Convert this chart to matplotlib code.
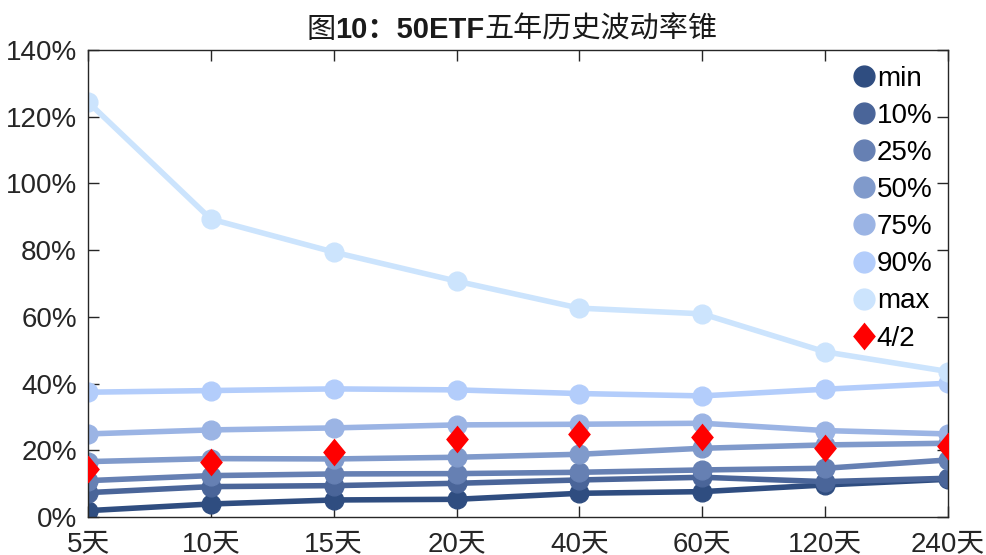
import numpy as np
import matplotlib
matplotlib.use("Agg")
import matplotlib.pyplot as plt

plt.rcParams['font.family'] = ['Liberation Sans', 'Noto Sans CJK SC', 'DejaVu Sans']

periods = ["5天", "10天", "15天", "20天", "40天", "60天", "120天", "240天"]
names = ["min", "10%", "25%", "50%", "75%", "90%", "max"]

v_min = [1.9, 3.9, 5.1, 5.3, 7.1, 7.6, 9.6, 11.3]
v_p10 = [7.3, 9.1, 9.4, 10.1, 11.1, 11.9, 10.6, 11.6]
v_p25 = [10.9, 12.4, 12.9, 13.0, 13.4, 14.1, 14.6, 17.1]
v_p50 = [16.6, 17.5, 17.4, 17.9, 18.8, 20.6, 21.6, 22.1]
v_p75 = [24.9, 26.1, 26.7, 27.6, 27.8, 28.1, 25.9, 24.9]
v_p90 = [37.4, 37.9, 38.4, 38.1, 37.0, 36.3, 38.3, 40.1]
v_max = [124.4, 89.3, 79.4, 70.7, 62.6, 60.9, 49.5, 43.6]
v_now = [14.5, 16.6, 19.5, 23.4, 24.8, 24.1, 20.6, 21.4]
now_label = "4/2"

series = [v_min, v_p10, v_p25, v_p50, v_p75, v_p90, v_max]
colors = ["#2f4d80", "#4a6599", "#6680b3", "#809acb", "#9bb4e4", "#b3cdfb", "#cce4fd"]

# slightly tall diamond
diamond = [(0, 1), (0.82, 0), (0, -1), (-0.82, 0), (0, 1)]

fig = plt.figure(figsize=(9.87, 5.55), dpi=100)
ax = fig.add_axes([0.0892, 0.0685, 0.8713, 0.8415])

x = np.arange(len(periods))
for vals, c, n in zip(series, colors, names):
    ax.plot(x, vals, color=c, lw=4, marker="o", ms=13.5, label=n, zorder=2)
ax.plot(x, v_now, ls="none", marker=diamond, ms=20, color="#ff0000", mec="#ff0000",
        mew=0, label=now_label, zorder=3)

ax.set_xlim(0, 7)
ax.set_ylim(0, 140)
ax.set_xticks(x)
ax.set_xticklabels(periods)
ax.set_yticks(np.arange(0, 141, 20))
ax.set_yticklabels([f"{v}%" for v in range(0, 141, 20)])
ax.tick_params(direction="in", length=8, width=1, top=True, right=True,
               labelsize=20, colors="#262626")
ax.tick_params(axis="y", pad=8)
ax.tick_params(axis="x", pad=10)
for s in ax.spines.values():
    s.set_color("#262626")
    s.set_linewidth(1)

handles, labels = ax.get_legend_handles_labels()
hs = []
for h in handles[:-1]:
    hs.append(plt.Line2D([], [], ls="none", marker="o", ms=15, color=h.get_color()))
hs.append(plt.Line2D([], [], ls="none", marker=diamond, ms=20, color="#ff0000", mew=0))
ax.legend(hs, labels, loc="upper right", frameon=False, fontsize=20,
          handlelength=0.6, handletextpad=0.15, labelspacing=0.4,
          borderaxespad=0.0, bbox_to_anchor=(0.995, 0.99))

# title with mixed weights
r = fig.canvas.get_renderer()
parts = [("图", "normal"), ("10：50ETF", "bold"), ("五年历史波动率锥", "normal")]
tf = ['Liberation Sans', 'Noto Sans CJK SC']
texts = []
for s, w in parts:
    t = fig.text(0, 0.932, s, fontsize=21, fontweight=w, family=tf, color="#1a1a1a",
                 va="baseline")
    texts.append(t)
widths = [t.get_window_extent(r).width for t in texts]
total = sum(widths)
x0 = 512 - total / 2
for t, w in zip(texts, widths):
    t.set_x(x0 / fig.bbox.width)
    x0 += w

fig.savefig("out.png", dpi=100)
